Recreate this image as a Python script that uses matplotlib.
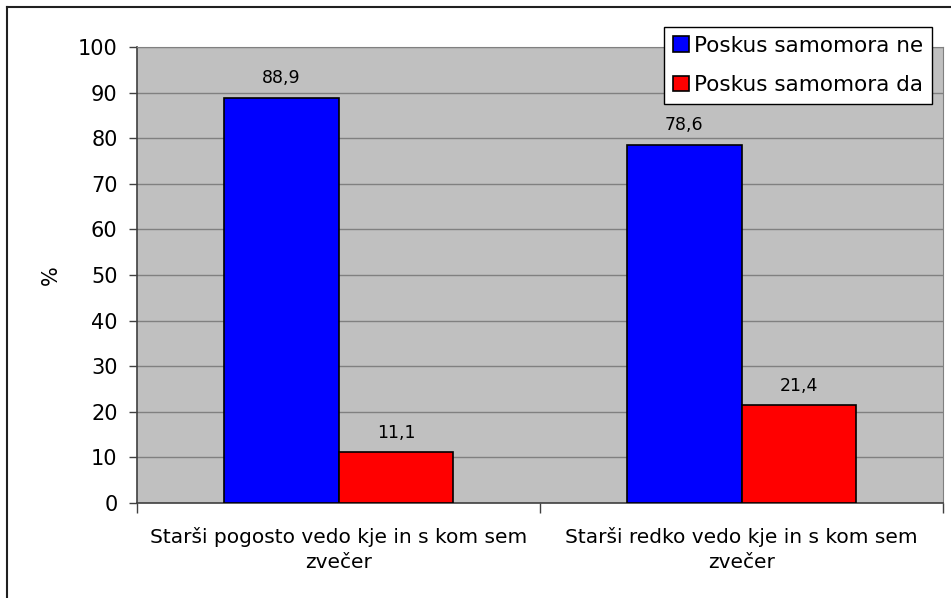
import numpy as np
import matplotlib.pyplot as plt
from matplotlib.lines import Line2D

categories = ["Starši pogosto vedo kje in s kom sem\nzvečer",
              "Starši redko vedo kje in s kom sem\nzvečer"]
series_names = ["Poskus samomora ne", "Poskus samomora da"]
values_ne = [88.9, 78.6]
values_da = [11.1, 21.4]
colors = ["#0000FF", "#FF0000"]

plt.rcParams['font.family'] = ['DejaVu Sans']

fig = plt.figure(figsize=(9.51, 5.98), dpi=100)
ax = fig.add_axes([137 / 951, 1 - 503 / 598, (943 - 137) / 951, (503 - 47) / 598])
ax.set_facecolor("#C0C0C0")

x = np.arange(len(categories))
w = 0.285
for i, (vals, name, col) in enumerate(zip([values_ne, values_da], series_names, colors)):
    pos = x - w / 2 + i * w
    bars = ax.bar(pos, vals, width=w, color=col, edgecolor="black", linewidth=1.2,
                  label=name, zorder=3)
    for b, v in zip(bars, vals):
        ax.text(b.get_x() + b.get_width() / 2, v + 2.3, f"{v:.1f}".replace(".", ","),
                ha="center", va="bottom", fontsize=12.5)

ax.set_xlim(-0.5, len(categories) - 0.5)
ax.set_ylim(0, 100)
ax.set_yticks(range(0, 101, 10))
ax.tick_params(axis="y", labelsize=15, length=6, width=1, color="#404040", pad=8)
ax.set_xticks([-0.5, 0.5, 1.5], minor=False)
ax.set_xticklabels([])
ax.tick_params(axis="x", length=7, width=1, color="#404040", direction="out")
ax.set_xticks(x, minor=True)
ax.set_xticklabels(categories, minor=True, fontsize=14.5, linespacing=1.45)
ax.tick_params(axis="x", which="minor", length=0, pad=17)
ax.grid(axis="y", color="#808080", linewidth=1, zorder=0)
ax.set_axisbelow(True)
ax.set_ylabel("%", fontsize=15, labelpad=12)

for s in ["top", "right"]:
    ax.spines[s].set_color("#808080")
for s in ["left", "bottom"]:
    ax.spines[s].set_color("#404040")
    ax.spines[s].set_linewidth(1.2)

leg = fig.legend(loc="upper right", bbox_to_anchor=(932 / 951, 1 - 27 / 598),
                 fontsize=15.5, frameon=True, fancybox=False, framealpha=1,
                 edgecolor="black", handlelength=0.75, handleheight=0.75,
                 handletextpad=0.25, borderpad=0.4, labelspacing=0.9,
                 borderaxespad=0)
leg.get_frame().set_linewidth(1)

# outer chart frame (left and top edges visible)
fig.add_artist(Line2D([7 / 951, 7 / 951], [0, 1 - 7 / 598], color="#202020", lw=1.5,
                      transform=fig.transFigure))
fig.add_artist(Line2D([7 / 951, 1], [1 - 7 / 598, 1 - 7 / 598], color="#202020", lw=1.5,
                      transform=fig.transFigure))

fig.savefig("out.png", dpi=100)
